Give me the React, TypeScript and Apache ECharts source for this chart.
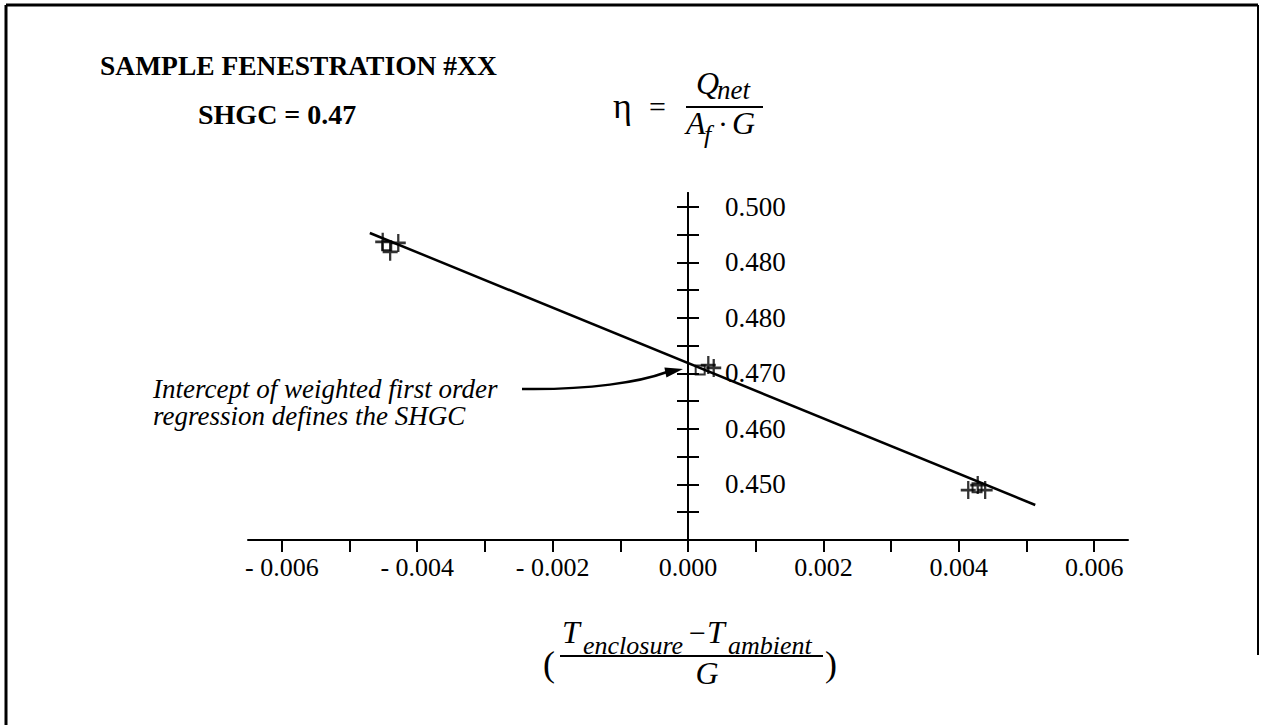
import React, { useEffect, useRef } from "react";
import * as echarts from "echarts";

// ---- data ----
const xTickValues = [-0.006, -0.005, -0.004, -0.003, -0.002, -0.001, 0, 0.001, 0.002, 0.003, 0.004, 0.005, 0.006];
const xLabelValues = [-0.006, -0.004, -0.002, 0, 0.002, 0.004, 0.006];
const xTickLabels = ["- 0.006", "- 0.004", "- 0.002", "0.000", "0.002", "0.004", "0.006"];

const yTickValues = [0.445, 0.45, 0.455, 0.46, 0.465, 0.47, 0.475, 0.48, 0.485, 0.49, 0.495, 0.5];
const yLabelValues = [0.45, 0.46, 0.47, 0.48, 0.49, 0.5];
const yTickLabels = ["0.450", "0.460", "0.470", "0.480", "0.480", "0.500"];

const squarePoints = [
  [-0.00445, 0.493],
  [0.00018, 0.4706],
  [0.00427, 0.4494],
];
const plusPoints = [
  [-0.00451, 0.4937],
  [-0.0044, 0.4919],
  [-0.00428, 0.4935],
  [0.0003, 0.4715],
  [0.00038, 0.471],
  [0.00414, 0.449],
  [0.00428, 0.4499],
  [0.00439, 0.449],
];
const regressionX = [-0.0047, 0.00513];
const regressionY = [0.4953, 0.4463];

const FONT = "'Liberation Serif', 'Times New Roman', serif";

const GRID_LEFT = 248;
const GRID_RIGHT = 137;
const CHART_W = 1265;
const X_MIN = -0.0065;
const X_MAX = 0.0065;

function pick(values: number[], labels: string[], v: number) {
  const i = values.findIndex((a) => Math.abs(a - v) < 1e-9);
  return i >= 0 ? labels[i] : "";
}

export default function App() {
  const ref = useRef<HTMLDivElement>(null);
  useEffect(() => {
    if (!ref.current) return;
    const chart = echarts.init(ref.current, null, { renderer: "svg" });
    const txt = (x: number, y: number, text: string, size: number, opts: any = {}) => ({
      type: "text",
      x,
      y,
      style: {
        text,
        fontFamily: FONT,
        fontSize: size,
        fontWeight: opts.weight || "normal",
        fontStyle: opts.style || "normal",
        fill: "#000",
        textAlign: opts.align || "left",
        textVerticalAlign: "middle",
      },
    });
    // pixel position of x = 0 inside the grid, so the vertical axis sits on zero
    const gridW = CHART_W - GRID_LEFT - GRID_RIGHT;
    const zeroPx = GRID_LEFT + ((0 - X_MIN) / (X_MAX - X_MIN)) * gridW;
    const yBase = {
      type: "value",
      min: 0.44,
      max: 0.5025,
      splitLine: { show: false },
    };
    const option: any = {
      animation: false,
      backgroundColor: "#fff",
      grid: { left: GRID_LEFT, right: GRID_RIGHT, top: 193, bottom: 185, containLabel: false },
      xAxis: {
        type: "value",
        min: X_MIN,
        max: X_MAX,
        axisLine: { show: true, onZero: false, lineStyle: { color: "#000", width: 2 } },
        axisTick: { show: true, length: 12, lineStyle: { color: "#000", width: 2 }, customValues: xTickValues },
        axisLabel: {
          show: true,
          margin: 14,
          customValues: xLabelValues,
          formatter: (v: number) => pick(xLabelValues, xTickLabels, v),
          color: "#000",
          fontFamily: FONT,
          fontSize: 26,
        },
        splitLine: { show: false },
      },
      yAxis: [
        {
          ...yBase,
          position: "right",
          offset: zeroPx - (GRID_LEFT + gridW),
          axisLine: { show: true, onZero: false, lineStyle: { color: "#000", width: 2 } },
          axisTick: { show: true, length: 11, lineStyle: { color: "#000", width: 2 }, customValues: yTickValues },
          axisLabel: {
            show: true,
            margin: 37,
            customValues: yLabelValues,
            formatter: (v: number) => pick(yLabelValues, yTickLabels, v),
            color: "#000",
            fontFamily: FONT,
            fontSize: 27,
          },
        },
        {
          ...yBase,
          position: "left",
          offset: GRID_LEFT - zeroPx,
          axisLine: { show: true, onZero: false, lineStyle: { color: "#000", width: 2 } },
          axisTick: { show: true, length: 11, lineStyle: { color: "#000", width: 2 }, customValues: yTickValues },
          axisLabel: { show: false },
        },
      ],
      series: [
        {
          type: "line",
          data: regressionX.map((x, i) => [x, regressionY[i]]),
          symbol: "none",
          lineStyle: { color: "#000", width: 2.5 },
          z: 2,
        },
        {
          type: "scatter",
          data: squarePoints,
          symbol: "rect",
          symbolSize: 9,
          itemStyle: { color: "rgba(0,0,0,0)", borderColor: "#000", borderWidth: 2 },
          z: 3,
        },
        {
          type: "scatter",
          data: plusPoints,
          symbol: "path://M5,0 L5,10 M0,5 L10,5",
          symbolSize: [15, 18],
          itemStyle: { color: "rgba(0,0,0,0)", borderColor: "#000", borderWidth: 2.5 },
          z: 3,
        },
      ],
      graphic: [
        // frame
        { type: "line", shape: { x1: 6, y1: 5, x2: 1258, y2: 5 }, style: { stroke: "#000", lineWidth: 3 } },
        { type: "line", shape: { x1: 6, y1: 5, x2: 6, y2: 725 }, style: { stroke: "#000", lineWidth: 3 } },
        { type: "line", shape: { x1: 1258, y1: 5, x2: 1258, y2: 655 }, style: { stroke: "#000", lineWidth: 2 } },
        // titles
        txt(100, 65, "SAMPLE FENESTRATION #XX", 27.5, { weight: "bold" }),
        txt(198, 114, "SHGC = 0.47", 28, { weight: "bold" }),
        // formula eta
        txt(613, 106, "η", 36),
        txt(649, 106, "=", 30),
        txt(696, 83, "Q", 32, { style: "italic" }),
        txt(717, 90, "net", 27, { style: "italic" }),
        { type: "line", shape: { x1: 686, y1: 107, x2: 763, y2: 107 }, style: { stroke: "#000", lineWidth: 2 } },
        txt(686, 123, "A", 32, { style: "italic" }),
        txt(704, 134, "f", 26, { style: "italic" }),
        txt(718, 123, "·", 30),
        txt(732, 123, "G", 32, { style: "italic" }),
        // annotation
        txt(153, 389, "Intercept of weighted first order", 27, { style: "italic" }),
        txt(153, 416, "regression defines the SHGC", 27, { style: "italic" }),
        {
          type: "bezierCurve",
          shape: { x1: 522, y1: 389, cpx1: 590, cpy1: 390, cpx2: 640, cpy2: 382, x2: 667, y2: 372 },
          style: { stroke: "#000", lineWidth: 2.5, fill: "none" },
        },
        {
          type: "polygon",
          shape: { points: [[683, 369], [666.4, 377.4], [664.4, 367.6]] },
          style: { fill: "#000" },
        },
        // x axis title
        txt(543, 664, "(", 36),
        txt(562, 632, "T", 32, { style: "italic" }),
        txt(583, 645, "enclosure", 26, { style: "italic" }),
        txt(689, 632, "−", 30),
        txt(707, 632, "T", 32, { style: "italic" }),
        txt(728, 645, "ambient", 26, { style: "italic" }),
        { type: "line", shape: { x1: 560, y1: 656, x2: 823, y2: 656 }, style: { stroke: "#000", lineWidth: 2 } },
        txt(707, 673, "G", 32, { style: "italic", align: "center" }),
        txt(825, 664, ")", 36),
      ],
    };
    chart.setOption(option);
    return () => chart.dispose();
  }, []);
  return (
    <div
      ref={ref}
      style={{ position: "absolute", left: 0, top: 0, width: 1265, height: 725 }}
    />
  );
}
